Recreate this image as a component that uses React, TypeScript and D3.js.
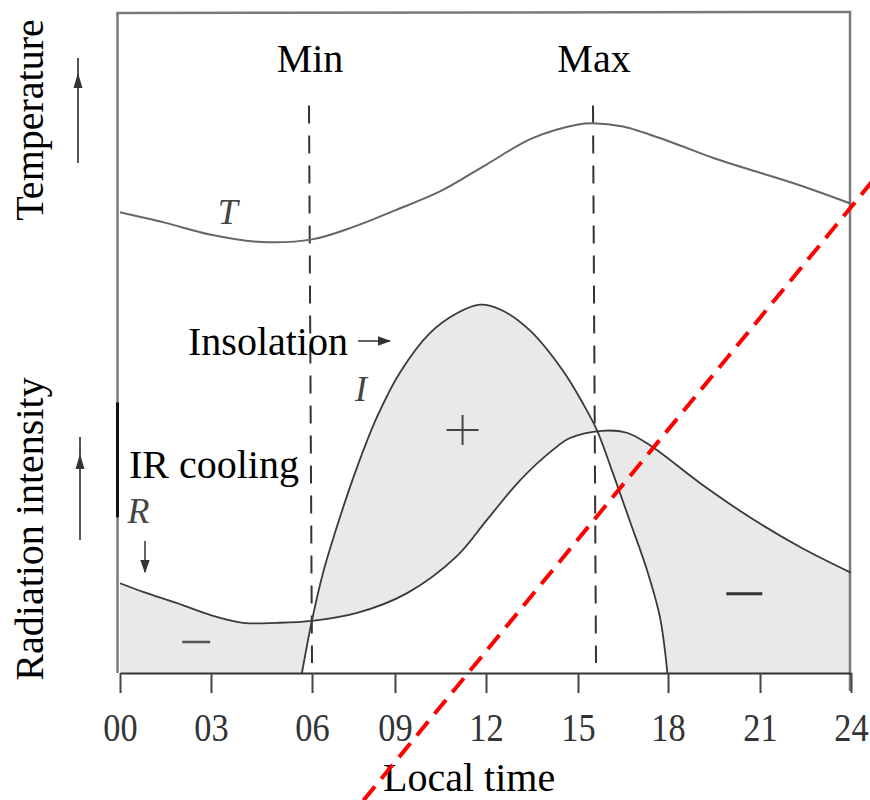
import React, { useEffect, useRef } from "react";
import * as d3 from "d3";

// x axis: local time (hours)
const hourTicks = [0, 3, 6, 9, 12, 15, 18, 21, 24];
const tickLabels = ["00", "03", "06", "09", "12", "15", "18", "21", "24"];

// temperature T (relative units, 0 = time axis, 100 = top of frame)
const tempHours = [0, 1.5, 3.0, 4.5, 6.0, 7.5, 9.0, 10.5, 12.0, 13.5, 15.0, 15.5, 16.5, 18.0, 19.5, 21.0, 22.5, 24];
const tempValues = [69.8, 68.2, 66.4, 65.3, 65.7, 67.6, 70.1, 73.0, 77.0, 81.0, 83.1, 83.3, 82.8, 80.6, 78.0, 75.8, 73.6, 71.1];

// insolation I
const insolHours = [5.7, 6.0, 6.4, 7.01, 7.63, 8.35, 9.16, 10.15, 11.04, 11.8, 12.5, 13.43, 14.51, 15.17, 15.63, 16.17, 16.73, 17.3, 17.73, 17.98];
const insolValues = [0, 8.0, 15.2, 23.6, 31.2, 38.8, 45.5, 51.5, 54.5, 55.8, 55.0, 51.9, 45.8, 40.8, 36.8, 30.2, 23.0, 15.6, 8.5, 0];

// IR cooling R
const irHours = [0, 0.76, 1.88, 2.97, 3.95, 4.96, 6.0, 7.63, 9.4, 11.04, 12.03, 13.11, 14.18, 14.74, 15.8, 16.63, 17.4, 19.04, 20.67, 22.32, 24];
const irValues = [13.6, 12.3, 10.6, 8.8, 7.6, 7.6, 7.9, 9.1, 12.1, 17.7, 23.2, 29.2, 33.8, 35.6, 36.7, 36.4, 34.5, 28.8, 23.6, 19.1, 15.2];

// min / max temperature times
const markerHours = [6, 15.6];
const markerLabels = ["Min", "Max"];

// red dashed annotation line (hour, value)
const redLine = [[7.86, -19.3], [24.7, 74.5]];

const serif = "'Liberation Serif', 'Times New Roman', serif";

function App() {
  const ref = useRef(null);

  useEffect(() => {
    const svg = d3.select(ref.current);
    svg.selectAll("*").remove();

    // the scanned axis has slightly uneven tick spacing
    const x = d3.scaleLinear().domain(hourTicks).range([120, 211, 312, 395, 486, 578, 668, 760, 851]);
    const y = d3.scaleLinear().domain([0, 100]).range([673, 13]);

    const temp = tempHours.map((h, i) => [h, tempValues[i]]);
    const insol = insolHours.map((h, i) => [h, insolValues[i]]);
    const ir = irHours.map((h, i) => [h, irValues[i]]);

    const curve = d3.curveCatmullRom.alpha(0.5);
    const line = d3.line().x(d => x(d[0])).y(d => y(d[1])).curve(curve);
    const area = d3.area().x(d => x(d[0])).y0(y(0)).y1(d => y(d[1])).curve(curve);

    // shaded area between I and R (even-odd of both areas)
    svg.append("path")
      .attr("d", area(ir) + area(insol))
      .attr("fill", "#e9e9e9")
      .attr("fill-rule", "evenodd")
      .attr("stroke", "none");

    // frame
    svg.append("path")
      .attr("d", `M${x(0) - 2.5},${y(0)} L${x(0) - 2.5},${y(100)} L${x(24) - 1},${y(100) - 1} L${x(24) - 1},${y(0) + 18}`)
      .attr("fill", "none").attr("stroke", "#7a7a7a").attr("stroke-width", 2.5);
    svg.append("line")
      .attr("x1", x(0) - 2.5).attr("x2", x(0) - 2.5).attr("y1", y(41)).attr("y2", y(23.6))
      .attr("stroke", "#111").attr("stroke-width", 3);

    // x axis
    const axis = svg.append("g")
      .attr("transform", `translate(0, ${y(0)})`)
      .call(d3.axisBottom(x).tickValues(hourTicks).tickFormat((d, i) => tickLabels[i]).tickSize(20).tickSizeOuter(0).tickPadding(20));
    axis.select(".domain").attr("stroke", "#333").attr("stroke-width", 2);
    axis.selectAll(".tick line").attr("stroke", "#444").attr("stroke-width", 2);
    axis.selectAll(".tick text")
      .attr("font-family", serif).attr("font-size", 39).attr("fill", "#333")
      .attr("transform", "scale(0.88,1)");

    // min / max dashed lines
    markerHours.forEach((h, i) => {
      svg.append("line")
        .attr("x1", x(h) - 3).attr("x2", x(h))
        .attr("y1", y(86)).attr("y2", y(1.5))
        .attr("stroke", "#333").attr("stroke-width", 2).attr("stroke-dasharray", "18 12");
      svg.append("text")
        .attr("x", x(h) - 2).attr("y", 72)
        .attr("text-anchor", "middle")
        .attr("font-family", serif).attr("font-size", 40)
        .text(markerLabels[i]);
    });

    // curves
    svg.append("path").attr("d", line(temp)).attr("fill", "none").attr("stroke", "#666").attr("stroke-width", 2);
    svg.append("path").attr("d", line(insol)).attr("fill", "none").attr("stroke", "#3a3a3a").attr("stroke-width", 1.8);
    svg.append("path").attr("d", line(ir)).attr("fill", "none").attr("stroke", "#3a3a3a").attr("stroke-width", 1.8);

    // curve letters
    const italic = (tx, ty, s) => svg.append("text")
      .attr("x", tx).attr("y", ty)
      .attr("font-family", serif).attr("font-style", "italic").attr("font-size", 36)
      .attr("fill", "#444").text(s);
    italic(x(3.2), y(68), "T");
    italic(x(7.55), y(41.2), "I");
    italic(x(0.25), y(22.8), "R");

    // + and - signs
    svg.append("path")
      .attr("d", `M${x(10.7)},${y(36.8)} h32 M${x(10.7) + 16},${y(39.1)} v30`)
      .attr("stroke", "#444").attr("stroke-width", 2);
    svg.append("line")
      .attr("x1", x(2.05)).attr("x2", x(2.05) + 28).attr("y1", y(4.7)).attr("y2", y(4.7))
      .attr("stroke", "#555").attr("stroke-width", 2.5);
    svg.append("line")
      .attr("x1", x(19.9)).attr("x2", x(19.9) + 36).attr("y1", y(12)).attr("y2", y(12))
      .attr("stroke", "#333").attr("stroke-width", 3);

    // arrow heads
    const defs = svg.append("defs");
    defs.append("marker")
      .attr("id", "ah").attr("viewBox", "0 0 10 10").attr("refX", 9).attr("refY", 5)
      .attr("markerWidth", 9).attr("markerHeight", 9).attr("orient", "auto-start-reverse")
      .append("path").attr("d", "M0,1.5 L10,5 L0,8.5 z").attr("fill", "#333");

    // "Insolation ->" and R down arrow
    svg.append("line")
      .attr("x1", 358).attr("x2", 390).attr("y1", 341).attr("y2", 341)
      .attr("stroke", "#333").attr("stroke-width", 1.5).attr("marker-end", "url(#ah)");
    svg.append("line")
      .attr("x1", 145).attr("x2", 145).attr("y1", 541).attr("y2", 572)
      .attr("stroke", "#333").attr("stroke-width", 1.5).attr("marker-end", "url(#ah)");

    // side arrows next to the axis titles
    [[78, 58, 163, 73], [80, 437, 540, 454]].forEach(([ax, top, bottom, head]) => {
      svg.append("line")
        .attr("x1", ax).attr("x2", ax).attr("y1", top).attr("y2", bottom)
        .attr("stroke", "#555").attr("stroke-width", 2);
      svg.append("path")
        .attr("d", `M${ax},${head} L${ax - 4.5},${head + 15} L${ax + 4.5},${head + 15} z`)
        .attr("fill", "#333");
    });

    // labels
    const label = (tx, ty, s, rot) => svg.append("text")
      .attr("transform", `translate(${tx},${ty})` + (rot ? " rotate(-90)" : ""))
      .attr("text-anchor", rot ? "middle" : "start")
      .attr("font-family", serif).attr("font-size", 40).attr("fill", "#000")
      .text(s);
    label(43, 120, "Temperature", true);
    label(43, 529, "Radiation intensity", true);
    label(188, 355, "Insolation", false);
    label(129, 478, "IR cooling", false);
    label(383, 791, "Local time", false);

    // red dashed annotation
    svg.append("line")
      .attr("x1", x(redLine[0][0])).attr("y1", y(redLine[0][1]))
      .attr("x2", x(redLine[1][0])).attr("y2", y(redLine[1][1]))
      .attr("stroke", "#f00").attr("stroke-width", 4).attr("stroke-dasharray", "18 10");
  }, []);

  return (
    <svg ref={ref} width={870} height={800}
      style={{ position: "absolute", left: 0, top: 0, background: "#fff" }} />
  );
}

export default App;
